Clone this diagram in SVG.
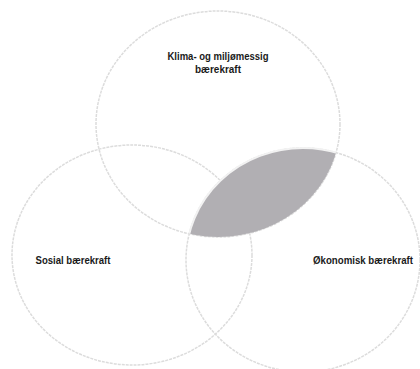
<svg xmlns="http://www.w3.org/2000/svg" width="420" height="369" viewBox="0 0 420 369">
  <style>
    .ring { fill: none; stroke: #dcdcdc; stroke-width: 1.5; stroke-dasharray: 3 1; }
    .lbl { font-family: "Liberation Sans", Arial, sans-serif; font-weight: bold; font-size: 10.5px; fill: #1a1a1a; text-anchor: middle; }
  </style>
  <defs>
    <clipPath id="clipTop">
      <ellipse cx="218" cy="124" rx="122" ry="113"/>
    </clipPath>
  </defs>
  <rect width="420" height="369" fill="#ffffff"/>
  <g id="connectors"/>
  <g id="node-top">
    <ellipse class="ring" cx="218" cy="124" rx="122" ry="113"/>
  </g>
  <g id="node-left">
    <ellipse class="ring" cx="132" cy="255" rx="120" ry="110"/>
  </g>
  <g id="node-right">
    <ellipse class="ring" cx="303" cy="260" rx="117" ry="112"/>
  </g>
  <g id="node-overlap">
    <ellipse cx="303" cy="260" rx="117" ry="112" fill="#b1afb3" stroke="#f2f2f2" stroke-width="2" clip-path="url(#clipTop)"/>
  </g>
  <g id="labels">
    <text class="lbl" x="218" y="60" textLength="101" lengthAdjust="spacingAndGlyphs">Klima- og miljømessig</text>
    <text class="lbl" x="218" y="73" textLength="46" lengthAdjust="spacingAndGlyphs">bærekraft</text>
    <text class="lbl" x="73" y="264" textLength="75" lengthAdjust="spacingAndGlyphs">Sosial bærekraft</text>
    <text class="lbl" x="363" y="264" textLength="100" lengthAdjust="spacingAndGlyphs">Økonomisk bærekraft</text>
  </g>
</svg>
